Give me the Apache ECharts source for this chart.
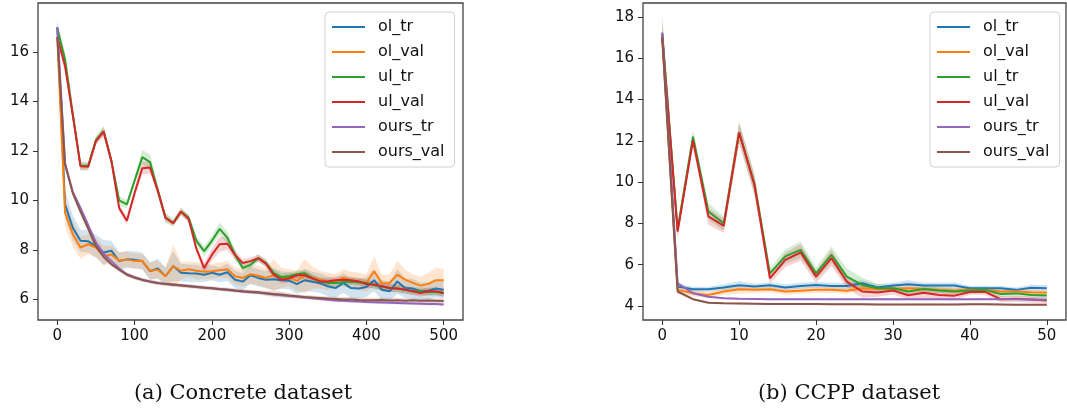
<!DOCTYPE html>
<html>
<head>
<meta charset="utf-8">
<script src="https://cdn.jsdelivr.net/npm/echarts@6/dist/echarts.min.js"></script>
<style>
  html, body { margin: 0; padding: 0; background: #fff; }
  #chart { width: 1067px; height: 409px; }
</style>
</head>
<body>
<div id="chart"></div>
<script>
// series names / colours (matplotlib tab10)
const names = ['ol_tr', 'ol_val', 'ul_tr', 'ul_val', 'ours_tr', 'ours_val'];
const colors = ['#1f77b4', '#ff7f0e', '#2ca02c', '#d62728', '#9467bd', '#8c564b'];

// ---- (a) Concrete dataset ----
const xs1 = [0, 10, 20, 30, 40, 50, 60, 70, 80, 90, 100, 110, 120, 130, 140, 150, 160, 170, 180, 190, 200,
  210, 220, 230, 240, 250, 260, 270, 280, 290, 300, 310, 320, 330, 340, 350, 360, 370, 380, 390, 400,
  410, 420, 430, 440, 450, 460, 470, 480, 490, 500];
const xTicks1 = [0, 100, 200, 300, 400, 500];
const yTicks1 = [6, 8, 10, 12, 14, 16];

const olTr1 = [17.0, 9.84, 8.9, 8.37, 8.35, 8.16, 7.9, 7.97, 7.55, 7.62, 7.6, 7.55, 7.14, 7.25, 6.94, 7.35, 7.08, 7.06, 7.05, 7.0, 7.08,
  7.0, 7.1, 6.8, 6.72, 6.98, 6.87, 6.8, 6.82, 6.78, 6.76, 6.62, 6.78, 6.72, 6.66, 6.53, 6.46, 6.67, 6.46, 6.44, 6.5,
  6.78, 6.39, 6.33, 6.73, 6.46, 6.44, 6.33, 6.35, 6.44, 6.39];
const olVal1 = [16.6, 9.5, 8.65, 8.1, 8.23, 8.1, 7.76, 7.82, 7.57, 7.62, 7.55, 7.55, 7.16, 7.2, 6.94, 7.35, 7.16, 7.22, 7.16, 7.12, 7.14,
  7.18, 7.22, 6.94, 6.87, 7.02, 6.96, 6.87, 6.98, 6.87, 6.88, 6.75, 6.95, 6.88, 6.8, 6.73, 6.73, 6.87, 6.78, 6.73, 6.67,
  7.14, 6.65, 6.67, 7.0, 6.8, 6.67, 6.56, 6.63, 6.78, 6.78];
const ulTr1 = [16.95, 15.7, 13.5, 11.4, 11.4, 12.45, 12.8, 11.6, 10.0, 9.84, 10.8, 11.75, 11.55, 10.4, 9.3, 9.1, 9.55, 9.3, 8.37, 7.95, 8.37,
  8.85, 8.5, 7.8, 7.27, 7.4, 7.67, 7.47, 7.06, 6.9, 6.94, 7.02, 7.06, 6.86, 6.73, 6.67, 6.67, 6.7, 6.73, 6.7, 6.67,
  6.57, 6.53, 6.46, 6.44, 6.39, 6.33, 6.33, 6.3, 6.3, 6.26];
const ulVal1 = [16.6, 15.43, 13.45, 11.38, 11.36, 12.4, 12.78, 11.6, 9.7, 9.18, 10.3, 11.3, 11.33, 10.4, 9.3, 9.08, 9.55, 9.25, 8.05, 7.27, 7.8,
  8.23, 8.25, 7.8, 7.47, 7.55, 7.67, 7.45, 7.0, 6.8, 6.85, 6.98, 6.98, 6.85, 6.73, 6.73, 6.78, 6.8, 6.78, 6.73, 6.62,
  6.6, 6.53, 6.46, 6.44, 6.39, 6.33, 6.26, 6.33, 6.33, 6.26];
const oursTr1 = [17.0, 11.5, 10.35, 9.7, 9.0, 8.3, 7.85, 7.55, 7.25, 7.02, 6.9, 6.8, 6.73, 6.67, 6.63, 6.6, 6.57, 6.54, 6.51, 6.48, 6.45,
  6.41, 6.38, 6.35, 6.32, 6.29, 6.27, 6.24, 6.2, 6.17, 6.14, 6.11, 6.08, 6.05, 6.02, 5.99, 5.96, 5.95, 5.93, 5.92, 5.9,
  5.89, 5.88, 5.87, 5.86, 5.85, 5.84, 5.83, 5.82, 5.82, 5.8];
const oursVal1 = [16.6, 11.45, 10.3, 9.55, 8.85, 8.15, 7.72, 7.42, 7.2, 7.0, 6.88, 6.79, 6.72, 6.66, 6.62, 6.59, 6.56, 6.53, 6.5, 6.47, 6.45,
  6.42, 6.4, 6.36, 6.33, 6.31, 6.29, 6.25, 6.22, 6.2, 6.16, 6.13, 6.1, 6.08, 6.06, 6.04, 6.02, 6.0, 6.0, 5.98, 5.97,
  5.97, 5.98, 5.96, 5.97, 5.95, 5.97, 5.95, 5.96, 5.95, 5.94];

// half-width of the shaded band around each curve
const olTrSd1 = [0.15, 0.55, 0.5, 0.45, 0.45, 0.45, 0.5, 0.4, 0.35, 0.35, 0.35, 0.35, 0.35, 0.4, 0.35, 0.6, 0.35, 0.35, 0.35, 0.3, 0.3,
  0.3, 0.35, 0.35, 0.35, 0.35, 0.35, 0.35, 0.45, 0.35, 0.35, 0.4, 0.45, 0.4, 0.4, 0.4, 0.4, 0.4, 0.4, 0.4, 0.4,
  0.45, 0.4, 0.4, 0.5, 0.4, 0.4, 0.35, 0.35, 0.35, 0.35];
const olValSd1 = [0.15, 0.55, 0.5, 0.45, 0.4, 0.4, 0.4, 0.35, 0.35, 0.3, 0.3, 0.3, 0.35, 0.35, 0.35, 0.85, 0.35, 0.3, 0.35, 0.3, 0.3,
  0.3, 0.35, 0.35, 0.35, 0.4, 0.4, 0.4, 0.65, 0.4, 0.35, 0.4, 0.7, 0.45, 0.35, 0.35, 0.3, 0.35, 0.35, 0.35, 0.35,
  0.6, 0.35, 0.35, 0.55, 0.4, 0.35, 0.35, 0.45, 0.5, 0.45];
const ulTrSd1 = [0.3, 0.3, 0.25, 0.2, 0.15, 0.15, 0.2, 0.2, 0.2, 0.15, 0.15, 0.3, 0.3, 0.25, 0.2, 0.15, 0.15, 0.15, 0.15, 0.2, 0.2,
  0.25, 0.25, 0.2, 0.15, 0.15, 0.15, 0.15, 0.15, 0.15, 0.15, 0.15, 0.15, 0.15, 0.15, 0.15, 0.15, 0.15, 0.15, 0.15, 0.15,
  0.15, 0.15, 0.15, 0.15, 0.15, 0.15, 0.15, 0.15, 0.15, 0.15];
const ulValSd1 = [0.2, 0.25, 0.2, 0.15, 0.15, 0.15, 0.2, 0.15, 0.15, 0.15, 0.2, 0.25, 0.25, 0.15, 0.15, 0.1, 0.15, 0.15, 0.15, 0.2, 0.25,
  0.3, 0.25, 0.2, 0.15, 0.15, 0.15, 0.15, 0.15, 0.15, 0.15, 0.15, 0.15, 0.15, 0.15, 0.15, 0.15, 0.15, 0.15, 0.15, 0.15,
  0.15, 0.15, 0.15, 0.15, 0.15, 0.15, 0.15, 0.15, 0.15, 0.15];
const oursTrSd1 = [0.1, 0.08, 0.08, 0.08, 0.08, 0.08, 0.06, 0.06, 0.06, 0.06, 0.06, 0.06, 0.06, 0.06, 0.06, 0.06, 0.06, 0.06, 0.06, 0.06, 0.06,
  0.06, 0.06, 0.06, 0.06, 0.06, 0.06, 0.06, 0.06, 0.06, 0.06, 0.06, 0.06, 0.06, 0.06, 0.06, 0.06, 0.06, 0.06, 0.06, 0.06,
  0.06, 0.06, 0.06, 0.06, 0.06, 0.06, 0.06, 0.06, 0.06, 0.06];
const oursValSd1 = [0.1, 0.1, 0.1, 0.1, 0.1, 0.1, 0.08, 0.08, 0.08, 0.08, 0.08, 0.08, 0.08, 0.08, 0.08, 0.08, 0.08, 0.08, 0.08, 0.08, 0.08,
  0.08, 0.08, 0.08, 0.08, 0.08, 0.08, 0.1, 0.12, 0.12, 0.1, 0.08, 0.08, 0.08, 0.08, 0.08, 0.1, 0.1, 0.1, 0.1, 0.1,
  0.1, 0.1, 0.1, 0.1, 0.1, 0.1, 0.1, 0.1, 0.1, 0.1];

// ---- (b) CCPP dataset ----
const xs2 = [0, 2, 4, 6, 8, 10, 12, 14, 16, 18, 20, 22, 24, 26, 28, 30, 32, 34, 36, 38, 40, 42, 44, 46, 48, 50];
const xTicks2 = [0, 10, 20, 30, 40, 50];
const yTicks2 = [4, 6, 8, 10, 12, 14, 16, 18];

const olTr2 = [17.2, 4.94, 4.81, 4.81, 4.9, 5.0, 4.94, 5.0, 4.9, 4.97, 5.02, 4.97, 4.97, 5.1, 4.9, 4.99, 5.05, 4.99, 4.99, 4.99, 4.86, 4.86, 4.86, 4.78, 4.88, 4.86];
const olVal2 = [17.0, 4.78, 4.62, 4.53, 4.7, 4.81, 4.78, 4.81, 4.7, 4.74, 4.78, 4.78, 4.74, 4.86, 4.82, 4.82, 4.86, 4.82, 4.78, 4.75, 4.78, 4.78, 4.7, 4.7, 4.67, 4.65];
const ulTr2 = [17.2, 7.7, 12.2, 8.58, 8.0, 12.42, 9.9, 5.58, 6.4, 6.72, 5.58, 6.48, 5.42, 5.02, 4.86, 4.86, 4.7, 4.82, 4.75, 4.7, 4.75, 4.78, 4.58, 4.61, 4.53, 4.51];
const ulVal2 = [17.07, 7.6, 12.02, 8.34, 7.88, 12.4, 9.85, 5.34, 6.23, 6.59, 5.42, 6.32, 5.18, 4.7, 4.65, 4.75, 4.52, 4.64, 4.53, 4.5, 4.68, 4.68, 4.33, 4.35, 4.31, 4.27];
const oursTr2 = [17.25, 5.1, 4.62, 4.45, 4.37, 4.35, 4.34, 4.33, 4.33, 4.33, 4.33, 4.32, 4.32, 4.32, 4.32, 4.32, 4.32, 4.32, 4.32, 4.32, 4.32, 4.33, 4.33, 4.32, 4.31, 4.3];
const oursVal2 = [17.0, 4.7, 4.33, 4.16, 4.13, 4.12, 4.11, 4.1, 4.1, 4.1, 4.09, 4.08, 4.08, 4.08, 4.07, 4.07, 4.07, 4.07, 4.07, 4.07, 4.08, 4.08, 4.07, 4.06, 4.06, 4.06];

const olTrSd2 = [0.3, 0.15, 0.12, 0.12, 0.15, 0.2, 0.15, 0.15, 0.15, 0.15, 0.15, 0.15, 0.15, 0.15, 0.15, 0.15, 0.2, 0.15, 0.15, 0.15, 0.12, 0.12, 0.12, 0.12, 0.15, 0.15];
const olValSd2 = [0.3, 0.2, 0.15, 0.15, 0.15, 0.2, 0.15, 0.15, 0.15, 0.15, 0.15, 0.15, 0.15, 0.15, 0.15, 0.15, 0.15, 0.15, 0.15, 0.15, 0.12, 0.12, 0.12, 0.12, 0.12, 0.12];
const ulTrSd2 = [0.9, 0.3, 0.3, 0.4, 0.35, 0.5, 0.5, 0.25, 0.35, 0.4, 0.3, 0.4, 0.4, 0.35, 0.2, 0.15, 0.15, 0.15, 0.15, 0.15, 0.15, 0.15, 0.15, 0.15, 0.15, 0.15];
const ulValSd2 = [0.9, 0.3, 0.3, 0.4, 0.35, 0.5, 0.5, 0.25, 0.35, 0.4, 0.3, 0.4, 0.3, 0.3, 0.2, 0.2, 0.2, 0.25, 0.2, 0.2, 0.15, 0.15, 0.15, 0.15, 0.15, 0.15];
const oursTrSd2 = [0.2, 0.08, 0.05, 0.05, 0.05, 0.05, 0.05, 0.05, 0.05, 0.05, 0.05, 0.05, 0.05, 0.05, 0.05, 0.05, 0.05, 0.05, 0.05, 0.05, 0.05, 0.05, 0.05, 0.05, 0.05, 0.05];
const oursValSd2 = [0.2, 0.08, 0.05, 0.05, 0.05, 0.05, 0.05, 0.05, 0.05, 0.05, 0.05, 0.05, 0.05, 0.05, 0.05, 0.05, 0.05, 0.05, 0.05, 0.05, 0.05, 0.05, 0.05, 0.05, 0.05, 0.05];

const captions = ['(a) Concrete dataset', '(b) CCPP dataset'];

const chart = echarts.init(document.getElementById('chart'), null, { renderer: 'canvas' });

function hexAlpha(hex, a) {
  const n = parseInt(hex.slice(1), 16);
  return 'rgba(' + (n >> 16) + ',' + ((n >> 8) & 255) + ',' + (n & 255) + ',' + a + ')';
}

// shaded band: one polygon (upper edge forward, lower edge back), drawn through the axes
function bandSeries(xs, ys, sd, k, gi) {
  return {
    type: 'custom', xAxisIndex: gi, yAxisIndex: gi, silent: true, z: 1,
    data: xs.map((x, i) => [x, ys[i] - sd[i], ys[i] + sd[i]]),
    renderItem: function (params, api) {
      if (params.dataIndex !== 0) return null;
      const n = xs.length;
      const pts = [];
      for (let i = 0; i < n; i++) pts.push(api.coord([xs[i], ys[i] + sd[i]]));
      for (let i = n - 1; i >= 0; i--) pts.push(api.coord([xs[i], ys[i] - sd[i]]));
      return {
        type: 'polygon',
        shape: { points: pts },
        style: { fill: hexAlpha(colors[k], 0.2), stroke: 'none' }
      };
    },
    clip: true
  };
}

function buildSeries(xs, lines, sds, gi) {
  const out = [];
  lines.forEach((ys, k) => out.push(bandSeries(xs, ys, sds[k], k, gi)));
  lines.forEach((ys, k) => {
    out.push({
      name: names[k], type: 'line', xAxisIndex: gi, yAxisIndex: gi,
      symbol: 'none', z: 3,
      lineStyle: { color: colors[k], width: 2 },
      itemStyle: { color: colors[k] },
      data: xs.map((x, i) => [x, ys[i]])
    });
  });
  return out;
}

const tickFont = { color: '#111', fontSize: 15, fontFamily: 'DejaVu Sans' };

function axis(gi, min, max, ticks) {
  return {
    type: 'value', gridIndex: gi, min: min, max: max,
    axisLine: { show: false, onZero: false },
    axisTick: { show: true, length: 5, lineStyle: { color: '#333' }, customValues: ticks },
    axisLabel: Object.assign({ margin: 9, customValues: ticks }, tickFont),
    splitLine: { show: false }
  };
}
function legend(left) {
  return {
    orient: 'vertical', left: left, top: 12,
    data: names, icon: 'rect', itemWidth: 33, itemHeight: 2, itemGap: 9,
    padding: [7, 10, 7, 7],
    backgroundColor: 'rgba(255,255,255,0.85)', borderColor: '#d0d0d0', borderWidth: 1, borderRadius: 4,
    textStyle: { color: '#111', fontSize: 16, fontFamily: 'DejaVu Sans', lineHeight: 16, padding: [0, 0, 0, 8] },
    selectedMode: false, z: 10
  };
}

const option = {
  animation: false,
  backgroundColor: '#fff',
  grid: [
    { left: 38, top: 3, width: 425, height: 317, show: true, borderColor: '#444', borderWidth: 1.3, backgroundColor: 'transparent' },
    { left: 643, top: 3, width: 423, height: 317, show: true, borderColor: '#444', borderWidth: 1.3, backgroundColor: 'transparent' }
  ],
  xAxis: [axis(0, -25, 525, xTicks1), axis(1, -2.5, 52.5, xTicks2)],
  yAxis: [axis(0, 5.17, 17.98, yTicks1), axis(1, 3.32, 18.68, yTicks2)],
  legend: [legend(325), legend(930)],
  series: buildSeries(xs1, [olTr1, olVal1, ulTr1, ulVal1, oursTr1, oursVal1],
      [olTrSd1, olValSd1, ulTrSd1, ulValSd1, oursTrSd1, oursValSd1], 0)
    .concat(buildSeries(xs2, [olTr2, olVal2, ulTr2, ulVal2, oursTr2, oursVal2],
      [olTrSd2, olValSd2, ulTrSd2, ulValSd2, oursTrSd2, oursValSd2], 1)),
  graphic: [
    { type: 'text', x: 243, y: 394, style: { text: captions[0], fill: '#111', font: '21px "DejaVu Serif"', textAlign: 'center', textVerticalAlign: 'middle' } },
    { type: 'text', x: 849, y: 394, style: { text: captions[1], fill: '#111', font: '21px "DejaVu Serif"', textAlign: 'center', textVerticalAlign: 'middle' } }
  ]
};

chart.setOption(option);
</script>
</body>
</html>
